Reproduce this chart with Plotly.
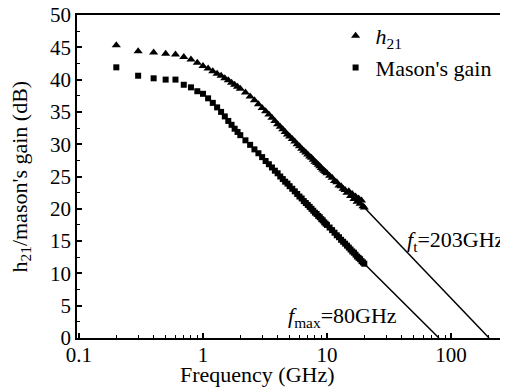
import plotly.graph_objects as go

freq_ghz = [0.2, 0.3, 0.4, 0.5, 0.6, 0.7, 0.8, 0.9, 1.0, 1.1, 1.2, 1.3, 1.4, 1.5, 1.6, 1.7, 1.8, 1.9, 2.0,
            2.2, 2.4, 2.6, 2.8, 3.0, 3.2, 3.4, 3.6, 3.8, 4.0, 4.2, 4.4, 4.6, 4.8, 5.0,
            5.25, 5.5, 5.75, 6.0, 6.25, 6.5, 6.75, 7.0, 7.25, 7.5, 7.75, 8.0, 8.25, 8.5, 8.75, 9.0, 9.25, 9.5, 9.75, 10.0,
            10.5, 11.0, 11.5, 12.0, 12.5, 13.0, 13.5, 14.0, 14.5, 15.0, 15.5, 16.0, 16.5, 17.0, 17.5, 18.0, 18.5, 19.0, 19.5, 20.0]

h21_db = [45.3, 44.4, 44.2, 44.0, 43.9, 43.5, 43.1, 42.6, 42.1, 41.7, 41.3, 40.9, 40.6, 40.2, 39.9, 39.5, 39.2, 38.9, 38.6,
          38.0, 37.4, 36.8, 36.2, 35.6, 35.1, 34.6, 34.1, 33.6, 33.1, 32.7, 32.3, 31.9, 31.5, 31.2,
          30.8, 30.4, 30.0, 29.7, 29.3, 29.0, 28.7, 28.4, 28.1, 27.9, 27.6, 27.3, 27.1, 26.8, 26.6, 26.3, 26.1, 25.9, 25.7, 25.5,
          25.1, 24.8, 24.3, 24.1, 23.6, 23.5, 23.1, 22.9, 22.5, 22.7, 22.0, 22.3, 21.5, 21.9, 21.1, 21.6, 20.8, 21.3, 20.4, 20.2]

mason_db = [41.9, 40.6, 40.2, 40.0, 40.0, 39.2, 38.8, 38.2, 37.8, 37.1, 36.4, 35.7, 35.0, 34.3, 33.6, 33.0, 32.4, 31.9, 31.4,
            30.6, 29.9, 29.2, 28.6, 28.0, 27.4, 26.9, 26.4, 25.9, 25.5, 25.0, 24.6, 24.2, 23.9, 23.5,
            23.1, 22.7, 22.3, 21.9, 21.6, 21.2, 20.9, 20.6, 20.3, 20.0, 19.7, 19.4, 19.2, 18.9, 18.7, 18.4, 18.2, 17.9, 17.7, 17.5,
            17.1, 16.7, 16.3, 15.9, 15.6, 15.2, 14.9, 14.6, 14.3, 14.0, 13.7, 13.4, 13.2, 12.9, 12.6, 12.4, 12.2, 11.9, 11.7, 11.5]

ft_fit_f = [20.0, 203.0]
ft_fit_db = [20.2, 0.0]
fmax_fit_f = [20.0, 80.0]
fmax_fit_db = [11.5, 0.0]

x_tick_vals = [0.1, 1, 10, 100]
x_tick_text = ["0.1", "1", "10", "100"]
x_minor_vals = [0.2, 0.3, 0.4, 0.5, 0.6, 0.7, 0.8, 0.9, 2, 3, 4, 5, 6, 7, 8, 9,
                20, 30, 40, 50, 60, 70, 80, 90, 200]
y_tick_vals = [0, 5, 10, 15, 20, 25, 30, 35, 40, 45, 50]

FONT = "Liberation Serif"

fig = go.Figure()
fig.add_trace(go.Scatter(x=ft_fit_f, y=ft_fit_db, mode="lines", line=dict(color="black", width=1.5),
                         showlegend=False, hoverinfo="skip"))
fig.add_trace(go.Scatter(x=fmax_fit_f, y=fmax_fit_db, mode="lines", line=dict(color="black", width=1.5),
                         showlegend=False, hoverinfo="skip"))
fig.add_trace(go.Scatter(x=freq_ghz, y=h21_db, mode="markers", name="<i>h</i><sub>21</sub>",
                         marker=dict(symbol="triangle-up", size=8, color="black", line=dict(width=0))))
fig.add_trace(go.Scatter(x=freq_ghz, y=mason_db, mode="markers", name="Mason's gain",
                         marker=dict(symbol="square", size=6, color="black", line=dict(width=0))))

# the page body adds an 8px offset, so the figure is 8px smaller than the window
fig.update_layout(
    width=500, height=381,
    margin=dict(l=69, r=0, t=7, b=51, autoexpand=False),
    paper_bgcolor="white", plot_bgcolor="white",
    font=dict(family=FONT, size=21, color="black"),
    legend=dict(x=0.6, y=1.0, xanchor="left", yanchor="top", bgcolor="rgba(0,0,0,0)",
                font=dict(family=FONT, size=22), tracegroupgap=0, itemwidth=30),
    annotations=[
        dict(x=1.63, y=15.0, xref="x", yref="y", text="<i>f</i><sub>t</sub>=203GHz", showarrow=False,
             xanchor="left", yanchor="middle", font=dict(family=FONT, size=22)),
        dict(x=0.67, y=3.3, xref="x", yref="y", text="<i>f</i><sub>max</sub>=80GHz", showarrow=False,
             xanchor="left", yanchor="middle", font=dict(family=FONT, size=22)),
        dict(x=(257 - 77) / 431, y=-(374 - 338) / 323, xref="paper", yref="paper", text="Frequency (GHz)",
             showarrow=False, xanchor="center", yanchor="middle", font=dict(family=FONT, size=22)),
        dict(x=-(77 - 20) / 431, y=0.5, xref="paper", yref="paper", text="h<sub>21</sub>/mason's gain (dB)",
             showarrow=False, xanchor="center", yanchor="middle", textangle=-90, font=dict(family=FONT, size=22)),
    ],
)

fig.update_xaxes(type="log", range=[-1.016, 2.46], tickvals=x_tick_vals, ticktext=x_tick_text,
                 ticks="inside", ticklen=5, tickwidth=1.5, tickcolor="black",
                 minor=dict(ticks="inside", ticklen=3, tickwidth=1, tickcolor="black", showgrid=False,
                            tickvals=x_minor_vals),
                 showline=True, linecolor="black", linewidth=1.5, mirror=True, showgrid=False, zeroline=False,
                 automargin=False, ticklabeloverflow="allow", ticklabelstandoff=-3,
                 tickfont=dict(family=FONT, size=21, color="black"))
fig.update_yaxes(range=[0, 50], tickvals=y_tick_vals,
                 ticks="inside", ticklen=5, tickwidth=1.5, tickcolor="black",
                 minor=dict(ticks="inside", ticklen=3, tickwidth=1, tickcolor="black", dtick=2.5, showgrid=False),
                 showline=True, linecolor="black", linewidth=1.5, mirror=False, showgrid=False, zeroline=False,
                 automargin=False, ticklabeloverflow="allow",
                 tickfont=dict(family=FONT, size=21, color="black"))

fig.write_html("out.html")
